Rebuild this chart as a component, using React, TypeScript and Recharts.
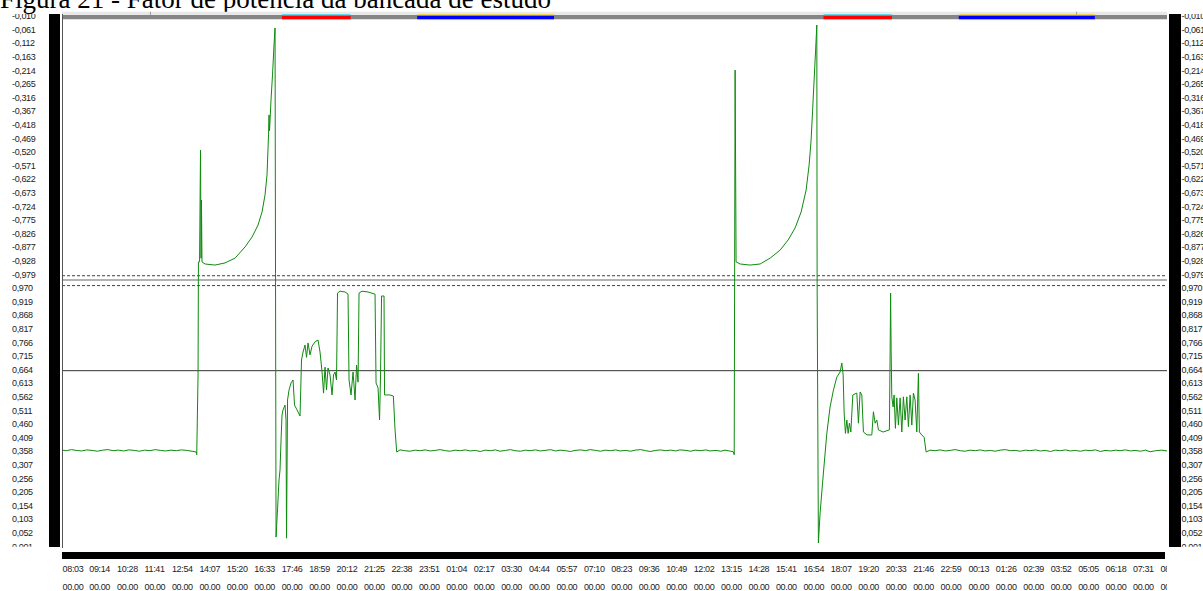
import React from 'react';
import { LineChart, Line, XAxis, YAxis, ReferenceLine, ReferenceArea } from 'recharts';

// time = minutes since 08:03 (day 1); pf = power factor (negative = capacitive, upper half)
const baselineMorning: [number, number][] = [
  [0, 0.362], [12, 0.36], [25, 0.364], [38, 0.361], [52, 0.359], [66, 0.363], [80, 0.361], [94, 0.358],
  [108, 0.362], [122, 0.364], [136, 0.36], [150, 0.362], [164, 0.359], [178, 0.363], [192, 0.361],
  [206, 0.358], [220, 0.362], [234, 0.36], [248, 0.364], [262, 0.361], [276, 0.359], [290, 0.362],
  [304, 0.36], [318, 0.363], [332, 0.361], [346, 0.358], [357, 0.355], [358.5, 0.345],
];

const eventDay1: [number, number][] = [
  [362, 0.644], [363, -0.932], [366, -0.932], [368.5, -0.513], [370, -0.918], [371, -0.7], [372.5, -0.932],
  [380.5, -0.94], [407, -0.944], [433.7, -0.936], [460.4, -0.918], [487, -0.876], [505.6, -0.839],
  [521.6, -0.794], [532.2, -0.745], [540.2, -0.681], [545.5, -0.606], [549.5, -0.456], [550.8, -0.381],
  [552.2, -0.44], [556.1, -0.325], [560.1, -0.231], [564.1, -0.119], [566.8, -0.055], [568.1, -0.975],
  [569.5, 0.036], [573.4, 0.138], [577.4, 0.25], [580.1, 0.288], [582.8, 0.4], [585.4, 0.494],
  [588.1, 0.513], [593.4, 0.531], [596.1, 0.474], [597.4, 0.032], [600.1, 0.55], [604, 0.587],
  [609.4, 0.614], [614.7, 0.625], [618.7, 0.531], [625.3, 0.513], [633.3, 0.49], [637.3, 0.7],
  [641.3, 0.73], [646.6, 0.756], [650.6, 0.71], [654.6, 0.764], [659.9, 0.719], [665.3, 0.752],
  [673.2, 0.768], [681.2, 0.775], [686.5, 0.73], [691.9, 0.655], [695.9, 0.576], [699.8, 0.673],
  [703.8, 0.588], [707.8, 0.67], [713.1, 0.644], [718.5, 0.569], [722.5, 0.644], [726.4, 0.655],
  [730.4, 0.625], [733.1, 0.951], [739.8, 0.958], [753.1, 0.955], [761, 0.947], [763.7, 0.625],
  [769, 0.569], [774.4, 0.655], [779.7, 0.55], [783.7, 0.681], [787.7, 0.617], [790.3, 0.951],
  [798.3, 0.958], [814.3, 0.955], [832.9, 0.947], [835.6, 0.614], [840.9, 0.595], [844.9, 0.475],
  [847.5, 0.644], [850.2, 0.94], [856.8, 0.94], [858.2, 0.569], [872.8, 0.569], [881.6, 0.565],
  [886.1, 0.438], [890.6, 0.355],
];

const baselineNight: [number, number][] = [
  [899.4, 0.363], [912, 0.36], [926, 0.358], [940, 0.362], [953, 0.36], [966, 0.363], [980, 0.359],
  [993, 0.361], [1006, 0.364], [1020, 0.36], [1033, 0.358], [1046, 0.362], [1060, 0.36], [1073, 0.363],
  [1086, 0.359], [1100, 0.361], [1113, 0.357], [1126, 0.362], [1140, 0.36], [1153, 0.363], [1165, 0.358],
  [1180, 0.361], [1193, 0.364], [1205, 0.36], [1220, 0.358], [1233, 0.362], [1245, 0.36], [1260, 0.363],
  [1273, 0.359], [1285, 0.361], [1300, 0.364], [1313, 0.359], [1325, 0.362], [1340, 0.36], [1353, 0.357],
  [1365, 0.361], [1380, 0.363], [1393, 0.36], [1405, 0.364], [1420, 0.361], [1433, 0.358], [1445, 0.362],
  [1460, 0.36], [1473, 0.363], [1485, 0.359], [1500, 0.361], [1513, 0.358], [1525, 0.362], [1540, 0.364],
  [1553, 0.36], [1565, 0.357], [1580, 0.361], [1593, 0.363], [1605, 0.36], [1620, 0.362], [1633, 0.359],
  [1644, 0.363], [1660, 0.361], [1673, 0.358], [1684, 0.362], [1700, 0.36], [1713, 0.363], [1724, 0.359],
  [1740, 0.361], [1753, 0.358], [1764, 0.362], [1776, 0.359], [1786, 0.356],
];

const eventDay2: [number, number][] = [
  [1788.5, 0.345], [1790.9, -0.213], [1793.5, -0.932], [1804.2, -0.94], [1830.8, -0.944], [1857.4, -0.94],
  [1884, -0.918], [1910.6, -0.888], [1931.9, -0.85], [1950.5, -0.805], [1966.5, -0.745], [1979.8, -0.663],
  [1987.8, -0.569], [1993.1, -0.475], [1997.1, -0.363], [2001.1, -0.25], [2005.1, -0.138], [2008.3, -0.044],
  [2009.1, 0.988], [2012.5, 0.014], [2017, 0.126], [2025.8, 0.276], [2034.9, 0.425], [2043.6, 0.524],
  [2052.5, 0.587], [2061.5, 0.636], [2070.3, 0.655], [2074.8, 0.689], [2078.3, 0.644], [2081, 0.501],
  [2084.4, 0.425], [2088.1, 0.475], [2091.6, 0.425], [2095, 0.463], [2098.8, 0.43], [2104.1, 0.569],
  [2114.7, 0.576], [2119, 0.463], [2123.5, 0.58], [2128, 0.569], [2132.3, 0.43], [2142.1, 0.419],
  [2154.6, 0.419], [2158.9, 0.506], [2163.4, 0.463], [2167.9, 0.475], [2172.2, 0.438], [2184.7, 0.43],
  [2201.4, 0.438], [2203.3, 0.726], [2204.6, 0.951], [2206, 0.737], [2207.8, 0.562], [2211.3, 0.524],
  [2213.9, 0.569], [2217.4, 0.444], [2221.1, 0.558], [2225.4, 0.456], [2229.9, 0.558], [2234.4, 0.43],
  [2238.7, 0.562], [2243.2, 0.475], [2247.7, 0.562], [2252, 0.45], [2256.5, 0.569], [2261, 0.456],
  [2265.3, 0.576], [2269.8, 0.55], [2274.3, 0.43], [2278.6, 0.65], [2281.2, 0.43], [2287.6, 0.419],
  [2293.8, 0.41], [2299.1, 0.355],
];

const baselineLast: [number, number][] = [
  [2309.7, 0.362], [2323, 0.36], [2336, 0.363], [2350, 0.359], [2363, 0.361], [2376, 0.364], [2390, 0.36],
  [2403, 0.358], [2416, 0.362], [2430, 0.36], [2443, 0.363], [2456, 0.359], [2470, 0.361], [2483, 0.358],
  [2496, 0.362], [2510, 0.364], [2523, 0.36], [2536, 0.361], [2550, 0.358], [2563, 0.362], [2576, 0.36],
  [2590, 0.363], [2603, 0.359], [2616, 0.361], [2630, 0.357], [2643, 0.362], [2656, 0.36], [2670, 0.363],
  [2683, 0.359], [2696, 0.361], [2710, 0.358], [2723, 0.362], [2735, 0.36], [2750, 0.363], [2763, 0.357],
  [2775, 0.361], [2790, 0.359], [2803, 0.362], [2815, 0.36], [2830, 0.363], [2843, 0.359], [2855, 0.361],
  [2870, 0.358], [2883, 0.362], [2895, 0.356], [2910, 0.36], [2925, 0.362], [2940, 0.359],
];

// tariff periods shown in the top band (minutes since start)
const peakPeriods: [number, number][] = [[585, 768], [2026, 2208]];
const reservedPeriods: [number, number][] = [[945, 1309], [2386, 2748]];
const cursorMarks: number[] = [234, 2698];

const yTickPF: number[] = [
  -0.01, -0.061, -0.112, -0.163, -0.214, -0.265, -0.316, -0.367, -0.418, -0.469, -0.52, -0.571, -0.622,
  -0.673, -0.724, -0.775, -0.826, -0.877, -0.928, -0.979, 0.97, 0.919, 0.868, 0.817, 0.766, 0.715, 0.664,
  0.613, 0.562, 0.511, 0.46, 0.409, 0.358, 0.307, 0.256, 0.205, 0.154, 0.103, 0.052, 0.001,
];

const xTickLabels: string[] = [
  '08:03', '09:14', '10:28', '11:41', '12:54', '14:07', '15:20', '16:33', '17:46', '18:59', '20:12',
  '21:25', '22:38', '23:51', '01:04', '02:17', '03:30', '04:44', '05:57', '07:10', '08:23', '09:36',
  '10:49', '12:02', '13:15', '14:28', '15:41', '16:54', '18:07', '19:20', '20:33', '21:46', '22:59',
  '00:13', '01:26', '02:39', '03:52', '05:05', '06:18', '07:31', '08:44',
];

const refDashed: number[] = [-0.984, 0.979];
const refUnity = 1.0;
const refTarget = 0.66;
const X_END = 2940;

// map pf to continuous axis position: -0 at top, ±1 in the middle, +0 at the bottom
const toU = (pf: number) => (pf < 0 ? -pf : 2 - pf);
const fmtU = (u: number) => {
  const pf = u < 1 ? -u : 2 - u;
  return pf.toFixed(3).replace('.', ',');
};

const data = [...baselineMorning, ...eventDay1, ...baselineNight, ...eventDay2, ...baselineLast].map(
  ([t, pf]) => ({ t, u: toU(pf) })
);

const yTicks = yTickPF.map(toU);

const xTicks = (() => {
  const out: number[] = [];
  let prev = -1;
  let dayAdd = 0;
  const start = 8 * 60 + 3;
  xTickLabels.forEach((s) => {
    const [h, m] = s.split(':').map(Number);
    let v = h * 60 + m + dayAdd;
    if (v < prev) {
      dayAdd += 1440;
      v += 1440;
    }
    prev = v;
    out.push(v - start);
  });
  return out;
})();

const labelFont = 'Liberation Sans, Arial, sans-serif';

const LeftTick = (props: any) => {
  const { y, payload, index } = props;
  const id = `ycl-l-${index}`;
  return (
    <g>
      <defs>
        <clipPath id={id}>
          <rect x={0} y={14} width={60} height={532.7} />
        </clipPath>
      </defs>
      <text x={12} y={y + 3.2} fontFamily={labelFont} fontSize={9} letterSpacing={-0.35} fill="#222" clipPath={`url(#${id})`}>
        {fmtU(payload.value)}
      </text>
    </g>
  );
};

const RightTick = (props: any) => {
  const { y, payload, index } = props;
  const id = `ycl-r-${index}`;
  return (
    <g>
      <defs>
        <clipPath id={id}>
          <rect x={1150} y={14} width={60} height={532.7} />
        </clipPath>
      </defs>
      <text x={1181.5} y={y + 3.2} fontFamily={labelFont} fontSize={9} letterSpacing={-0.35} fill="#222" clipPath={`url(#${id})`}>
        {fmtU(payload.value)}
      </text>
    </g>
  );
};

const BottomTick = (props: any) => {
  const { x, index } = props;
  const id = `xcl-${index}`;
  return (
    <g>
      <defs>
        <clipPath id={id}>
          <rect x={0} y={548} width={1167} height={60} />
        </clipPath>
      </defs>
      <g clipPath={`url(#${id})`}>
        <text x={x + 0.6} y={571.5} fontFamily={labelFont} fontSize={9} letterSpacing={-0.36} fill="#222">
          {xTickLabels[index]}
        </text>
        <text x={x + 0.6} y={590} fontFamily={labelFont} fontSize={9} letterSpacing={-0.36} fill="#222">
          00.00
        </text>
      </g>
    </g>
  );
};

const block = (left: number, top: number, width: number, height: number, bg: string): React.CSSProperties => ({
  position: 'absolute',
  left,
  top,
  width,
  height,
  background: bg,
});

export default function App() {
  const bandTop = -0.006;
  const bandMid = 0.0064;
  const bandColorTop = 0.0038;
  const bandColorMid = 0.0082;
  const bandBottom = 0.0225;
  return (
    <div style={{ position: 'absolute', left: 0, top: 0, width: 1203, height: 591, overflow: 'hidden', background: '#fff' }}>
      <svg width={620} height={30} style={{ position: 'absolute', left: 0, top: 0 }}>
        <text x={0} y={7.8} fontFamily="Liberation Serif, Times New Roman, serif" fontSize={27} fill="#000">
          Figura 21 - Fator de potência da bancada de estudo
        </text>
      </svg>
      <div style={{ position: 'absolute', left: 0, top: 0 }}>
        <LineChart width={1203} height={591} data={data} margin={{ top: 13.3, right: 0, bottom: 0, left: 0 }}>
          <XAxis
            type="number"
            dataKey="t"
            domain={[0, X_END]}
            ticks={xTicks}
            interval={0}
            height={44.3}
            axisLine={false}
            tickLine={false}
            tick={<BottomTick />}
            allowDataOverflow
          />
          <YAxis
            yAxisId="l"
            type="number"
            domain={[0, 2]}
            reversed
            ticks={yTicks}
            interval={0}
            width={62}
            axisLine={false}
            tickLine={false}
            tick={<LeftTick />}
            allowDataOverflow
          />
          <YAxis
            yAxisId="r"
            orientation="right"
            type="number"
            domain={[0, 2]}
            reversed
            ticks={yTicks}
            interval={0}
            width={36}
            axisLine={false}
            tickLine={false}
            tick={<RightTick />}
            allowDataOverflow
          />
          <ReferenceArea yAxisId="l" x1={0} x2={X_END} y1={bandTop} y2={bandMid} fill="#e8e8e8" fillOpacity={1} stroke="none" ifOverflow="visible" />
          <ReferenceArea yAxisId="l" x1={0} x2={X_END} y1={bandMid} y2={bandBottom} fill="#858585" fillOpacity={1} stroke="none" ifOverflow="visible" />
          {cursorMarks.map((m, i) => (
            <ReferenceArea key={`cm${i}`} yAxisId="l" x1={m} x2={m + 2.6} y1={bandTop} y2={bandMid} fill="#9a9a9a" fillOpacity={1} stroke="none" ifOverflow="visible" />
          ))}
          {peakPeriods.map(([a, b], i) => (
            <ReferenceArea key={`pk${i}`} yAxisId="l" x1={a} x2={b} y1={bandColorMid} y2={bandBottom} fill="#ff0000" fillOpacity={1} stroke="none" ifOverflow="visible" />
          ))}
          {peakPeriods.map(([a, b], i) => (
            <ReferenceArea key={`pkc${i}`} yAxisId="l" x1={a} x2={b} y1={bandColorTop} y2={bandColorMid} fill="#30d8f0" fillOpacity={1} stroke="none" ifOverflow="visible" />
          ))}
          {reservedPeriods.map(([a, b], i) => (
            <ReferenceArea key={`rs${i}`} yAxisId="l" x1={a} x2={b} y1={bandColorMid} y2={bandBottom} fill="#0000ff" fillOpacity={1} stroke="none" ifOverflow="visible" />
          ))}
          {reservedPeriods.map(([a, b], i) => (
            <ReferenceArea key={`rsy${i}`} yAxisId="l" x1={a} x2={b} y1={bandColorTop} y2={bandColorMid} fill="#f0d020" fillOpacity={1} stroke="none" ifOverflow="visible" />
          ))}
          {refDashed.map((pf, i) => (
            <ReferenceLine key={`rd${i}`} yAxisId="l" y={toU(pf)} stroke="#404040" strokeDasharray="3 2" strokeWidth={1} />
          ))}
          <ReferenceLine yAxisId="l" y={refUnity} stroke="#666" strokeWidth={1} />
          <ReferenceLine yAxisId="l" y={toU(refTarget)} stroke="#333" strokeWidth={1} />
          <Line
            yAxisId="l"
            type="linear"
            dataKey="u"
            stroke="#0e8a0e"
            strokeWidth={1}
            dot={false}
            activeDot={false}
            isAnimationActive={false}
          />
        </LineChart>
      </div>
      <div style={block(49, 14, 11, 533, '#000')} />
      <div style={block(1169, 14, 12, 533, '#000')} />
      <div style={block(62, 14, 1, 534, '#555')} />
      <div style={block(62, 552, 1103, 7, '#000')} />
    </div>
  );
}
